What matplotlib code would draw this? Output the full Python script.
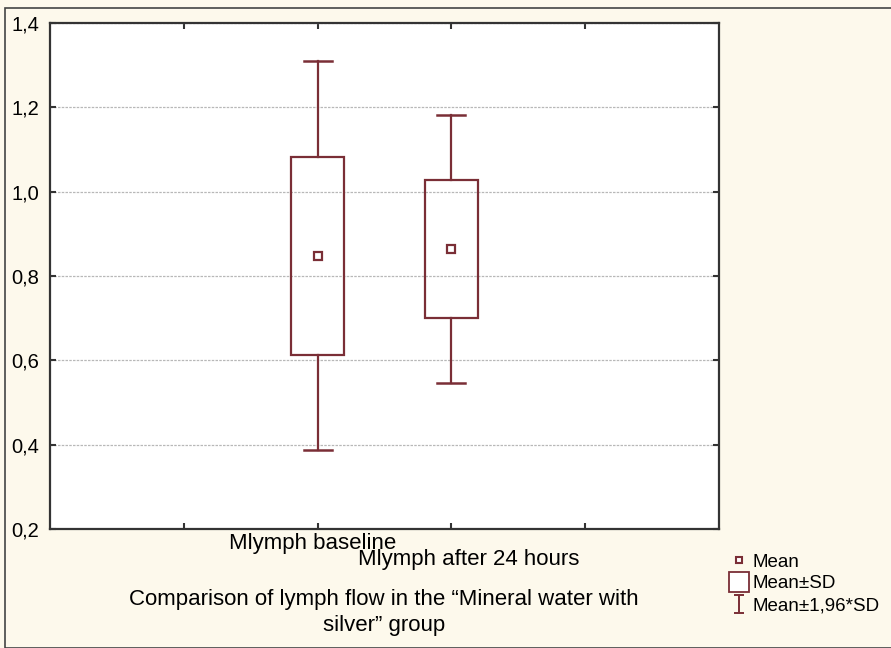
import matplotlib.pyplot as plt
from matplotlib.patches import Rectangle
from matplotlib.lines import Line2D
from matplotlib.path import Path

categories = ['Mlymph baseline', 'Mlymph after 24 hours']
means = [0.847, 0.864]
sd_low = [0.612, 0.700]
sd_high = [1.082, 1.028]
ci_low = [0.387, 0.546]
ci_high = [1.310, 1.182]
yticks = [0.2, 0.4, 0.6, 0.8, 1.0, 1.2, 1.4]

col = '#7a2e36'
bg = '#fdf9ec'

plt.rcParams['font.family'] = ['Liberation Sans', 'DejaVu Sans']

fig = plt.figure(figsize=(8.91, 6.48), dpi=100, facecolor=bg)
ax = fig.add_axes([50 / 891, 1 - 529 / 648, 669 / 891, 506 / 648])
ax.set_facecolor('white')

positions = [1, 2]
for x, m, lo, hi, wlo, whi in zip(positions, means, sd_low, sd_high, ci_low, ci_high):
    ax.add_patch(Rectangle((x - 0.2, lo), 0.4, hi - lo, fill=False, edgecolor=col, lw=1.6, zorder=3))
    ax.plot([x, x], [hi, whi], color=col, lw=1.6, zorder=3)
    ax.plot([x, x], [wlo, lo], color=col, lw=1.6, zorder=3)
    ax.plot([x - 0.105, x + 0.105], [whi, whi], color=col, lw=1.8, zorder=3)
    ax.plot([x - 0.105, x + 0.105], [wlo, wlo], color=col, lw=1.8, zorder=3)
    ax.plot(x, m, marker='s', ms=6, mfc='white', mec=col, mew=1.6, zorder=4)

ax.set_xlim(-1, 4)
ax.set_ylim(0.2, 1.4)
ax.set_yticks(yticks)
ax.set_yticklabels([f'{v:.1f}'.replace('.', ',') for v in yticks], fontsize=14.5)
ax.set_xticks([0, 1, 2, 3])
ax.set_xticklabels([])
ax.tick_params(direction='in', length=4, width=1.5, top=True, right=True, color='#333333')
ax.tick_params(axis='y', pad=8)
ax.grid(axis='y', color='#b8b8b8', linestyle=(0, (2, 1)), lw=0.9)
for s in ax.spines.values():
    s.set_linewidth(1.6)
    s.set_color('#333333')

ax.text(0.96, -0.028, categories[0], transform=ax.get_xaxis_transform(),
        ha='center', va='center', fontsize=16)
ax.text(2.13, -0.061, categories[1], transform=ax.get_xaxis_transform(),
        ha='center', va='center', fontsize=16)

fig.text(384 / 891, 1 - 599 / 648, 'Comparison of lymph flow in the \u201cMineral water with',
         ha='center', va='center', fontsize=16)
fig.text(384 / 891, 1 - 625 / 648, 'silver\u201d group',
         ha='center', va='center', fontsize=16)

ibeam = Path([(-0.6, 1), (0.6, 1), (0, 1), (0, -1), (-0.6, -1), (0.6, -1)],
             [Path.MOVETO, Path.LINETO, Path.MOVETO, Path.LINETO, Path.MOVETO, Path.LINETO])
handles = [
    Line2D([], [], ls='none', marker='s', ms=5, mfc='white', mec=col, mew=1.5),
    Line2D([], [], ls='none', marker='s', ms=14, mfc='white', mec=col, mew=1.3),
    Line2D([], [], ls='none', marker=ibeam, ms=13, mfc='none', mec=col, mew=1.4),
]
fig.legend(handles, ['Mean', 'Mean\u00b1SD', 'Mean\u00b11,96*SD'], loc='upper left',
           bbox_to_anchor=(724 / 891, 1 - 546 / 648), frameon=False, fontsize=13.5,
           handlelength=0.8, handletextpad=0.3, labelspacing=0.25, borderaxespad=0)

fig.add_artist(Rectangle((5 / 891, 0), 1, 1 - 8 / 648, transform=fig.transFigure,
                         fill=False, edgecolor='#444444', lw=1.2))

fig.savefig('out.png', dpi=100, facecolor=bg)
